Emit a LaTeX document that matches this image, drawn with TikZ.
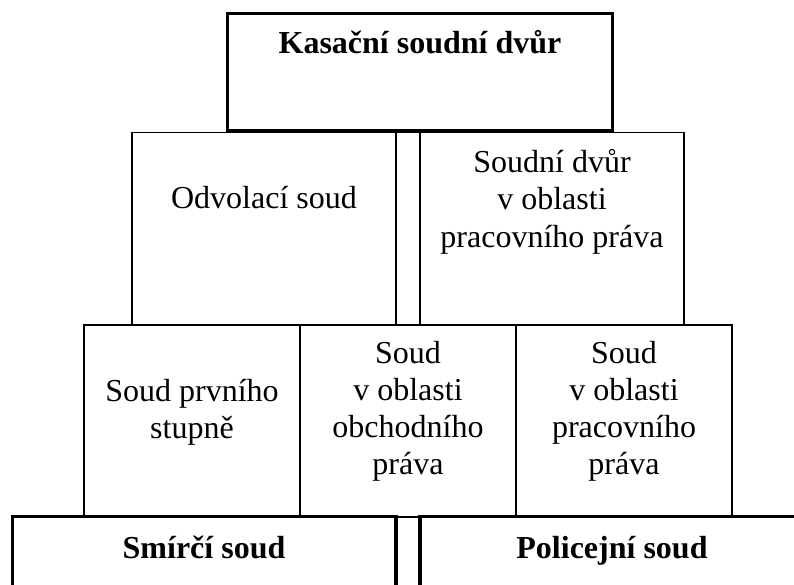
\documentclass[tikz,border=0pt]{standalone}
\usepackage{fontspec}
\setmainfont{Liberation Serif}
\begin{document}
\begin{tikzpicture}[x=1pt,y=-1pt,
  anybox/.style={draw, inner sep=0pt, outer sep=0pt},
  thinbox/.style={anybox, line width=1.6pt},
  thickbox/.style={anybox, line width=3.4pt},
  lbl/.style={align=center, inner sep=0pt, font=\fontsize{32}{37.3}\selectfont},
  blbl/.style={align=center, inner sep=0pt, font=\fontsize{32}{37.3}\selectfont\bfseries}]
\clip (0,0) rectangle (794,584);
\fill[white] (0,0) rectangle (794,584);
% second row
\node[thinbox, minimum width=264pt, minimum height=192pt] (odv) at (264,228.5) {};
\node[thinbox, minimum width=24pt, minimum height=192pt] (gapA) at (408,228.5) {};
\node[thinbox, minimum width=264pt, minimum height=192pt] (sdv) at (552,228.5) {};
% third row
\node[thinbox, minimum width=216pt, minimum height=191.7pt] (prv) at (192,420.85) {};
\node[thinbox, minimum width=216pt, minimum height=191.7pt] (obch) at (408,420.85) {};
\node[thinbox, minimum width=216pt, minimum height=191.7pt] (prac) at (624,420.85) {};
% thick boxes
\node[thickbox, minimum width=385pt, minimum height=117.2pt] (kas) at (420,71.9) {};
\node[thickbox, minimum width=383.7pt, minimum height=103.3pt] (smir) at (204.15,568.35) {};
\node[thickbox, minimum width=384pt, minimum height=103.3pt] (pol) at (612,568.35) {};
% texts
\node[blbl] (tkas) at (420,46.5) {Kasační soudní dvůr\strut};
\node[lbl] (todv) at (264,201.5) {Odvolací soud\strut};
\node[lbl] (tsdv) at (552,202.5) {Soudní dvůr\strut\\v oblasti\strut\\pracovního práva\strut};
\node[lbl] (tprv) at (192,412.5) {Soud prvního\strut\\stupně\strut};
\node[lbl] (tobch) at (408,411.5) {Soud\strut\\v oblasti\strut\\obchodního\strut\\práva\strut};
\node[lbl] (tprac) at (624,411.5) {Soud\strut\\v oblasti\strut\\pracovního\strut\\práva\strut};
\node[blbl] (tsmir) at (204,551.5) {Smírčí soud\strut};
\node[blbl] (tpol) at (612,551.5) {Policejní soud\strut};
\end{tikzpicture}
\end{document}
